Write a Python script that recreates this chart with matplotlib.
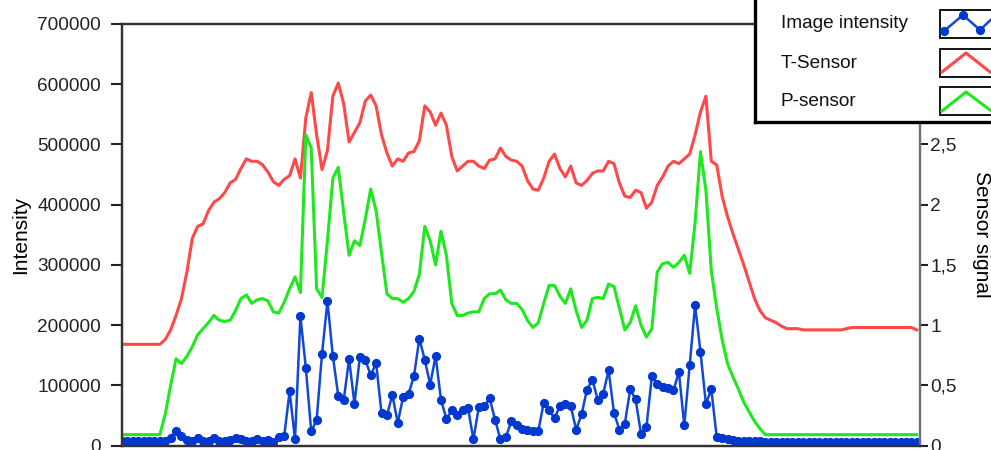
import numpy as np
import matplotlib.pyplot as plt
from matplotlib.patches import Rectangle

plt.rcParams['font.family'] = ['Liberation Sans', 'DejaVu Sans']

# image intensity, left axis (one value per sample)
intensity = [
    7000, 7000, 7000, 7000, 7000, 7000, 7000, 7000, 8000, 13000,
    24000, 16000, 9000, 7000, 12000, 8000, 7000, 12000, 8000, 7000,
    9000, 12000, 10000, 7000, 8000, 10000, 8000, 9000, 5500, 13800,
    15500, 89800, 10000, 214600, 129000, 23300, 42700, 152500, 239600, 148600,
    82700, 74900, 143100, 69400, 147000, 142600, 116500, 137000, 53800, 49900,
    84300, 37700, 80400, 86000, 114800, 177500, 142600, 101000, 148600, 76000,
    44400, 58200, 49900, 58200, 62100, 10000, 63700, 64900, 78700, 42700,
    10000, 13800, 39900, 33300, 27700, 25000, 23800, 23800, 71000, 58200,
    45400, 65400, 69400, 65400, 26100, 51600, 92700, 109300, 76000, 86000,
    124800, 54400, 26100, 36100, 93200, 76500, 19400, 30400, 114800, 102600,
    97000, 95300, 91500, 122000, 33300, 133100, 233000, 155200, 69400, 93200,
    13800, 12100, 11000, 9000, 8000, 7500, 7000, 7000, 7000, 6500,
    6500, 6500, 6500, 6000, 6000, 6000, 6000, 6000, 6000, 6000,
    6000, 6000, 6000, 6000, 6000, 6000, 6000, 6000, 6000, 6000,
    6000, 6000, 6000, 6000, 6000, 6000, 6000, 6000,
]

# T-Sensor, right axis
t_sensor = [
    0.84, 0.84, 0.84, 0.84, 0.84, 0.84, 0.84, 0.84, 0.88, 0.96,
    1.08, 1.22, 1.44, 1.72, 1.82, 1.84, 1.95, 2.02, 2.05, 2.10,
    2.18, 2.21, 2.30, 2.38, 2.36, 2.36, 2.33, 2.27, 2.19, 2.16,
    2.21, 2.24, 2.38, 2.22, 2.72, 2.93, 2.58, 2.29, 2.45, 2.90,
    3.01, 2.84, 2.52, 2.60, 2.68, 2.86, 2.91, 2.82, 2.58, 2.43,
    2.32, 2.38, 2.36, 2.43, 2.44, 2.53, 2.82, 2.77, 2.66, 2.76,
    2.66, 2.40, 2.28, 2.32, 2.36, 2.36, 2.32, 2.30, 2.37, 2.38,
    2.47, 2.40, 2.37, 2.36, 2.32, 2.20, 2.13, 2.12, 2.22, 2.36,
    2.42, 2.30, 2.23, 2.32, 2.18, 2.16, 2.20, 2.26, 2.28, 2.28,
    2.36, 2.34, 2.18, 2.07, 2.06, 2.12, 2.10, 1.97, 2.02, 2.16,
    2.23, 2.32, 2.36, 2.34, 2.38, 2.42, 2.58, 2.77, 2.90, 2.36,
    2.33, 2.07, 1.90, 1.76, 1.63, 1.50, 1.36, 1.22, 1.12, 1.06,
    1.04, 1.02, 0.99, 0.97, 0.97, 0.97, 0.96, 0.96, 0.96, 0.96,
    0.96, 0.96, 0.96, 0.96, 0.97, 0.98, 0.98, 0.98, 0.98, 0.98,
    0.98, 0.98, 0.98, 0.98, 0.98, 0.98, 0.98, 0.96,
]

# P-sensor, right axis
p_sensor = [
    0.09, 0.09, 0.09, 0.09, 0.09, 0.09, 0.09, 0.09, 0.26, 0.50,
    0.72, 0.68, 0.74, 0.82, 0.92, 0.97, 1.02, 1.08, 1.04, 1.03,
    1.04, 1.12, 1.22, 1.25, 1.18, 1.21, 1.22, 1.20, 1.11, 1.10,
    1.19, 1.30, 1.40, 1.27, 2.58, 2.47, 1.30, 1.23, 1.70, 2.22,
    2.31, 1.94, 1.58, 1.70, 1.66, 1.88, 2.13, 1.95, 1.60, 1.26,
    1.22, 1.22, 1.19, 1.22, 1.28, 1.42, 1.82, 1.70, 1.50, 1.78,
    1.58, 1.18, 1.08, 1.08, 1.10, 1.11, 1.11, 1.22, 1.26, 1.26,
    1.29, 1.21, 1.18, 1.18, 1.13, 1.04, 0.98, 1.02, 1.18, 1.33,
    1.33, 1.24, 1.18, 1.30, 1.12, 0.98, 1.04, 1.22, 1.23, 1.22,
    1.34, 1.32, 1.14, 0.96, 1.02, 1.16, 1.00, 0.90, 0.97, 1.44,
    1.51, 1.52, 1.48, 1.52, 1.58, 1.43, 1.85, 2.44, 2.12, 1.45,
    1.14, 0.88, 0.68, 0.57, 0.47, 0.36, 0.28, 0.20, 0.14, 0.09,
    0.09, 0.09, 0.09, 0.09, 0.09, 0.09, 0.09, 0.09, 0.09, 0.09,
    0.09, 0.09, 0.09, 0.09, 0.09, 0.09, 0.09, 0.09, 0.09, 0.09,
    0.09, 0.09, 0.09, 0.09, 0.09, 0.09, 0.09, 0.09,
]

left_ticks = [0, 100000, 200000, 300000, 400000, 500000, 600000, 700000]
left_labels = ["0", "100000", "200000", "300000", "400000", "500000", "600000", "700000"]
right_ticks = [0, 0.5, 1, 1.5, 2, 2.5, 3, 3.5]
right_labels = ["0", "0,5", "1", "1,5", "2", "2,5", "3", "3,5"]
names = ["Image intensity", "T-Sensor", "P-sensor"]

blue = "#1248d8"
red = "#ff4848"
green = "#1ee81e"
fs = 13.7

fig = plt.figure(figsize=(9.91, 4.5), dpi=100)
ax = fig.add_axes([122 / 991, 4.5 / 450, 798 / 991, 421.5 / 450])
x = np.arange(len(intensity))

ax.plot(x, intensity, color=blue, lw=1.8, marker="o", ms=5.6,
        mfc="#0038d0", mec="#0038d0", zorder=3)
ax.set_xlim(0, 147.6)
ax.set_ylim(0, 700000)
ax.set_yticks(left_ticks)
ax.set_yticklabels(left_labels)
ax.tick_params(axis="y", direction="out", length=8, width=1.5, pad=7,
               labelsize=fs, colors="#222222")
ax.tick_params(axis="x", bottom=False, labelbottom=False)
ax.set_ylabel("Intensity", fontsize=15, rotation=90, va="center", ha="center")
ax.yaxis.set_label_coords(-101 / 798, 0.5)

ax2 = ax.twinx()
ax2.plot(x, t_sensor, color=red, lw=2.2)
ax2.plot(x, p_sensor, color=green, lw=2.2)
ax2.set_ylim(0, 3.5)
ax2.set_yticks(right_ticks)
ax2.set_yticklabels(right_labels)
ax2.tick_params(axis="y", direction="out", length=6, width=1.5, pad=1.5,
                labelsize=fs, colors="#222222")
ax2.tick_params(axis="x", bottom=False, labelbottom=False)
ax2.set_ylabel("Sensor signal", fontsize=15, rotation=270, va="center", ha="center")
ax2.yaxis.set_label_coords(1 + 62 / 798, 0.5)

for a in (ax, ax2):
    for side in ("left", "bottom", "top"):
        a.spines[side].set_color("#333333")
        a.spines[side].set_linewidth(1.6)
    a.spines["right"].set_color("#707070")
    a.spines["right"].set_linewidth(1.6)

# LabVIEW-style legend panel in the top right corner (pixel coordinates)
leg = fig.add_axes([755 / 991, 1 - 122 / 450, 0.3, 0.4])
leg.set_zorder(10)
leg.set_xlim(755, 755 + 0.3 * 991)
leg.set_ylim(122, 122 - 0.4 * 450)
leg.set_facecolor("white")
leg.set_xticks([])
leg.set_yticks([])
for side in ("top", "right"):
    leg.spines[side].set_visible(False)
for side in ("left", "bottom"):
    leg.spines[side].set_linewidth(2.4)
    leg.spines[side].set_color("black")

rows = [24, 63, 101]
for name, yc in zip(names, rows):
    leg.text(781, yc, name, fontsize=fs, va="center", ha="left", color="#111111")
    leg.add_patch(Rectangle((940, yc - 14), 80, 28, facecolor="white",
                            edgecolor="black", lw=1.3))
leg.plot([944, 963, 980, 997], [31, 15, 30, 14], color=blue, lw=1.8,
         marker="o", ms=5.6, mfc="#0038d0", mec="#0038d0")
leg.plot([942, 966, 990], [72, 53, 72], color=red, lw=2.2)
leg.plot([942, 966, 990], [111, 92, 110], color=green, lw=2.2)

fig.savefig("out.png", dpi=100, facecolor="white")
